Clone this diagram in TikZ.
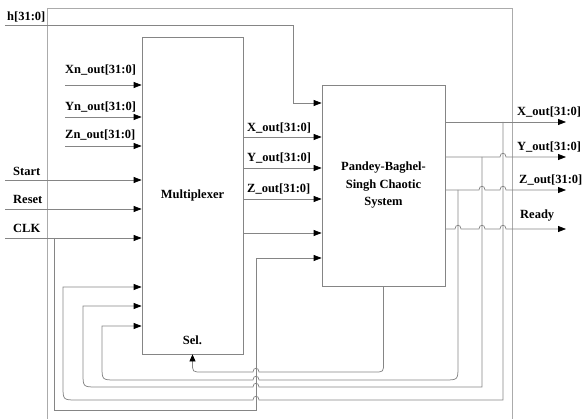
\documentclass[tikz,border=0pt]{standalone}
\usepackage{fontspec}
\setmainfont{Liberation Serif}
\usetikzlibrary{arrows.meta,positioning}
\definecolor{WireGray} {HTML}{858585}
\definecolor{FrameGray}{HTML}{ABABAB}

\begin{document}
\begin{tikzpicture}[x=1pt,y=-1pt,
  wire/.style={draw=WireGray,line width=0.75pt},
  sig/.style={wire,-{Triangle[length=8pt,width=6pt,color=black]}},
  frame/.style={draw=FrameGray,line width=0.75pt},
  blk/.style={draw=WireGray,line width=0.75pt,inner sep=0pt,align=center,
              font=\fontsize{12.5}{17.5}\selectfont\bfseries},
  lbl/.style={font=\fontsize{12.5}{14}\selectfont\bfseries,inner sep=0pt,anchor=base west}
]
  \useasboundingbox (0,0) rectangle (586,419);

  % blocks
  \node[blk,minimum width=101pt,minimum height=317pt] (mux)   at (192.5,195.5) {Multiplexer};
  \node[blk,minimum width=123pt,minimum height=201pt] (chaos) at (383.5,185.5)
        {Pandey-Baghel-\\Singh Chaotic\\System};
  \node[lbl,anchor=south,above=9pt of mux.south] (sel) {Sel.};

  % outer frame
  \draw[frame] (47,419) -- (47,8) -- (512,8) -- (512,419);

  % inputs
  \coordinate (hin)   at (5,25);
  \coordinate (hturn) at (293,103);
  \coordinate (xnin)  at (65,85);
  \coordinate (ynin)  at (65,117);
  \coordinate (znin)  at (65,146);
  \coordinate (stin)  at (5,180);
  \coordinate (rsin)  at (5,209);
  \coordinate (clkin) at (5,238);
  \coordinate (clktap) at (54,238);
  \coordinate (clkturn) at (256,258);

  \node[lbl] (lh)     at (7,21)   {h[31:0]};
  \node[lbl] (lxn)    at (65,74)  {Xn\_out[31:0]};
  \node[lbl] (lyn)    at (65,111) {Yn\_out[31:0]};
  \node[lbl] (lzn)    at (65,139) {Zn\_out[31:0]};
  \node[lbl] (lstart) at (13,176) {Start};
  \node[lbl] (lreset) at (13,204) {Reset};
  \node[lbl] (lclk)   at (13,233) {CLK};

  \draw[sig] (hin) -| (hturn) -- (hturn -| chaos.west);
  \draw[sig] (xnin) -- (xnin -| mux.west);
  \draw[sig] (ynin) -- (ynin -| mux.west);
  \draw[sig] (znin) -- (znin -| mux.west);
  \draw[sig] (stin) -- (stin -| mux.west);
  \draw[sig] (rsin) -- (rsin -| mux.west);
  \draw[sig] (clkin) -- (clkin -| mux.west);
  \draw[sig] (clktap) -- (54,410) -- (256,410) -- (clkturn) -- (clkturn -| chaos.west);

  % multiplexer to chaotic system
  \coordinate (mx) at (243,137);
  \coordinate (my) at (243,168);
  \coordinate (mz) at (243,199);
  \coordinate (mr) at (243,233);
  \node[lbl] (lmx) at (247,132) {X\_out[31:0]};
  \node[lbl] (lmy) at (247,162) {Y\_out[31:0]};
  \node[lbl] (lmz) at (247,193) {Z\_out[31:0]};
  \draw[sig] (mx) -- (mx -| chaos.west);
  \draw[sig] (my) -- (my -| chaos.west);
  \draw[sig] (mz) -- (mz -| chaos.west);
  \draw[sig] (mr) -- (mr -| chaos.west);

  % outputs
  \coordinate (xo) at (566,122);
  \coordinate (yo) at (566,157);
  \coordinate (zo) at (566,190);
  \coordinate (ro) at (566,229);
  \node[lbl] (lxo) at (517,116) {X\_out[31:0]};
  \node[lbl] (lyo) at (517,151) {Y\_out[31:0]};
  \node[lbl] (lzo) at (519,184) {Z\_out[31:0]};
  \node[lbl] (lro) at (520,219) {Ready};

  \draw[sig] (xo -| chaos.east) -- (xo);
  \draw[sig] (yo -| chaos.east) -- (500,157) .. controls +(0,-5) and +(0,-5) .. (506,157) -- (yo);
  \draw[sig] (zo -| chaos.east) -- (479,190) .. controls +(0,-5) and +(0,-5) .. (485,190)
        -- (500,190) .. controls +(0,-5) and +(0,-5) .. (506,190) -- (zo);
  \draw[sig] (ro -| chaos.east) -- (455,229) .. controls +(0,-5) and +(0,-5) .. (461,229)
        -- (479,229) .. controls +(0,-5) and +(0,-5) .. (485,229)
        -- (500,229) .. controls +(0,-5) and +(0,-5) .. (506,229) -- (ro);

  % feedback
  \coordinate (xtap) at (503,122);
  \coordinate (ytap) at (482,157);
  \coordinate (ztap) at (458,190);
  \coordinate (fbx) at (63,287);
  \coordinate (fby) at (83,306);
  \coordinate (fbz) at (102,326);

  \draw[sig] (xtap) -- (503,400) -- (259,400) .. controls +(0,-5) and +(0,-5) .. (253,400)
        -- (77,400) .. controls (63,400) .. (63,386) -- (fbx) -- (fbx -| mux.west);
  \draw[sig] (ytap) -- (482,387) -- (259,387) .. controls +(0,-5) and +(0,-5) .. (253,387)
        -- (97,387) .. controls (83,387) .. (83,373) -- (fby) -- (fby -| mux.west);
  \draw[sig] (ztap) -- (458,366) .. controls (458,380) .. (444,380)
        -- (259,380) .. controls +(0,-5) and +(0,-5) .. (253,380)
        -- (116,380) .. controls (102,380) .. (102,366) -- (fbz) -- (fbz -| mux.west);
  \draw[wire,-{Triangle[length=7pt,width=6pt,color=black]}] (chaos.south)
        -- (383.5,363) .. controls (383.5,372) .. (374.5,372)
        -- (259,372) .. controls +(0,-5) and +(0,-5) .. (253,372)
        -- (202,372) .. controls (192.5,372) .. (192.5,363) -- (mux.south);
\end{tikzpicture}
\end{document}
